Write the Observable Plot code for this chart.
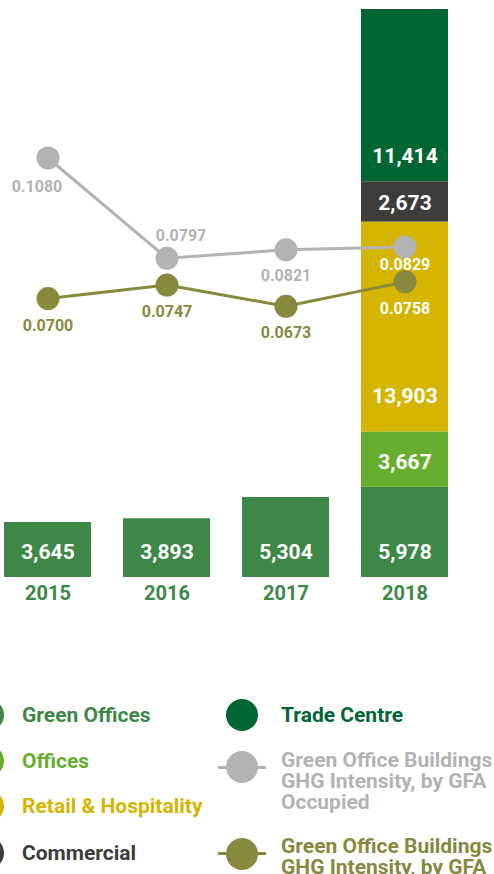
<!DOCTYPE html>
<html><head><meta charset="utf-8">
<script src="https://cdn.jsdelivr.net/npm/d3@7"></script>
<script src="https://cdn.jsdelivr.net/npm/@observablehq/plot@0.6"></script>
<style>
body{margin:0;background:#fff;font-family:Roboto, sans-serif;}
#wrap{position:relative;width:494px;height:874px;overflow:hidden;}
#wrap svg{position:absolute;left:0;top:0;}
.lg{position:absolute;font-weight:700;font-size:21px;line-height:21px;white-space:nowrap;}
.sw{position:absolute;border-radius:50%;width:32px;height:32px;}
.ln{position:absolute;height:3px;width:48px;}
</style></head><body><div id="wrap"></div>
<script>
const years = ["2015","2016","2017","2018"];
const greenOffices = [3645, 3893, 5304, 5978];
const offices = [null, null, null, 3667];
const retailHospitality = [null, null, null, 13903];
const commercial = [null, null, null, 2673];
const tradeCentre = [null, null, null, 11414];
const ghgOccupied = [0.1080, 0.0797, 0.0821, 0.0829];
const ghgGFA = [0.0700, 0.0747, 0.0673, 0.0758];
const segmentNames = ["Green Offices", "Offices", "Retail & Hospitality", "Commercial", "Trade Centre"];
const segmentValues = [greenOffices, offices, retailHospitality, commercial, tradeCentre];
const segmentColors = ["#3d8847", "#67ae2e", "#d5b500", "#3d3c3a", "#006633"];
const grayColor = "#b3b3b3", oliveColor = "#878a3e";

const rows = [];
segmentNames.forEach((s, k) => years.forEach((year, i) => {
  const v = segmentValues[k][i];
  if (v != null) rows.push({year, series: s, value: v});
}));
const totals = years.map((y, i) => d3.sum(segmentValues, a => a[i] || 0));
const fmt = d3.format(",");
const font = "Roboto, sans-serif";

const common = {
  width: 494, height: 620, marginTop: 9, marginBottom: 43, marginLeft: 4, marginRight: 46,
  x: {type: "band", domain: years, paddingInner: 0.27, paddingOuter: 0, axis: null},
  style: {fontFamily: font, background: "transparent", overflow: "visible"}
};

const labelOpts = (names, dy) => Plot.stackY1({
  x: "year", y: "value", z: "series",
  text: d => names.includes(d.series) ? fmt(d.value) : "",
  dy, fill: "white", fontSize: 21, fontWeight: "bold"
});

const bars = Plot.plot({
  ...common,
  y: {domain: [0, d3.max(totals)], axis: null},
  color: {domain: segmentNames, range: segmentColors},
  marks: [
    Plot.barY(rows, {x: "year", y: "value", fill: "series", z: "series"}),
    Plot.text(rows, labelOpts(["Green Offices", "Offices", "Trade Centre"], -25)),
    Plot.text(rows, labelOpts(["Retail & Hospitality"], -36)),
    Plot.text(rows, labelOpts(["Commercial"], -19)),
    Plot.text(years, {x: d => d, frameAnchor: "bottom", lineAnchor: "middle", dy: 16, text: d => d,
      fill: "#3d8847", fontSize: 20, fontWeight: "bold"})
  ]
});

const grayData = years.map((year, i) => ({year, value: ghgOccupied[i], i}));
const oliveData = years.map((year, i) => ({year, value: ghgGFA[i], i}));
const f4 = d3.format(".4f");
const lblColor = (base) => d => d.year === "2018" ? "white" : base;

const olive = Plot.plot({
  ...common,
  y: {domain: [-0.02721, 0.17070], axis: null},
  marks: [
    Plot.line(oliveData, {x: "year", y: "value", stroke: oliveColor, strokeWidth: 3}),
    Plot.dot(oliveData, {x: "year", y: "value", r: 11.5, fill: oliveColor}),
    Plot.text(oliveData, {x: "year", y: "value", text: d => f4(d.value), dy: 27,
      fill: lblColor(oliveColor), fontSize: 16, fontWeight: "bold"})
  ]
});

const gray = Plot.plot({
  ...common,
  y: {domain: [-0.01034, 0.14989], axis: null},
  marks: [
    Plot.line(grayData, {x: "year", y: "value", stroke: grayColor, strokeWidth: 3}),
    Plot.dot(grayData, {x: "year", y: "value", r: 11.5, fill: grayColor}),
    Plot.text(grayData.filter(d => d.i === 0), {x: "year", y: "value", text: d => f4(d.value),
      dx: -11, dy: 29, fill: grayColor, fontSize: 16, fontWeight: "bold"}),
    Plot.text(grayData.filter(d => d.i === 1), {x: "year", y: "value", text: d => f4(d.value),
      dx: 14, dy: -22, fill: grayColor, fontSize: 16, fontWeight: "bold"}),
    Plot.text(grayData.filter(d => d.i === 2), {x: "year", y: "value", text: d => f4(d.value),
      dy: 26, fill: grayColor, fontSize: 16, fontWeight: "bold"}),
    Plot.text(grayData.filter(d => d.i === 3), {x: "year", y: "value", text: d => f4(d.value),
      dy: 18, fill: "white", fontSize: 16, fontWeight: "bold"})
  ]
});

const wrap = document.getElementById("wrap");
wrap.append(bars, olive, gray);

// Legend
function add(html) { wrap.insertAdjacentHTML("beforeend", html); }
const leftY = [715, 761, 806, 853];
segmentNames.slice(0, 4).forEach((s, k) => {
  add(`<div class="sw" style="left:-28px;top:${leftY[k] - 16}px;background:${segmentColors[k]}"></div>`);
  add(`<div class="lg" style="left:22px;top:${leftY[k] - 10.5}px;color:${segmentColors[k]}">${s.replace("&", "&amp;")}</div>`);
});
add(`<div class="sw" style="left:226px;top:699px;background:${segmentColors[4]}"></div>`);
add(`<div class="lg" style="left:281px;top:705px;color:${segmentColors[4]}">${segmentNames[4]}</div>`);
add(`<div class="ln" style="left:218px;top:765.5px;background:${grayColor}"></div>`);
add(`<div class="sw" style="left:226px;top:751px;background:${grayColor}"></div>`);
add(`<div class="lg" style="left:281px;top:749.5px;color:${grayColor}">Green Office Buildings<br>GHG Intensity, by GFA<br>Occupied</div>`);
add(`<div class="ln" style="left:218px;top:852px;background:${oliveColor}"></div>`);
add(`<div class="sw" style="left:226px;top:837.5px;background:${oliveColor}"></div>`);
add(`<div class="lg" style="left:281px;top:836px;color:${oliveColor}">Green Office Buildings<br>GHG Intensity, by GFA</div>`);
</script></body></html>
